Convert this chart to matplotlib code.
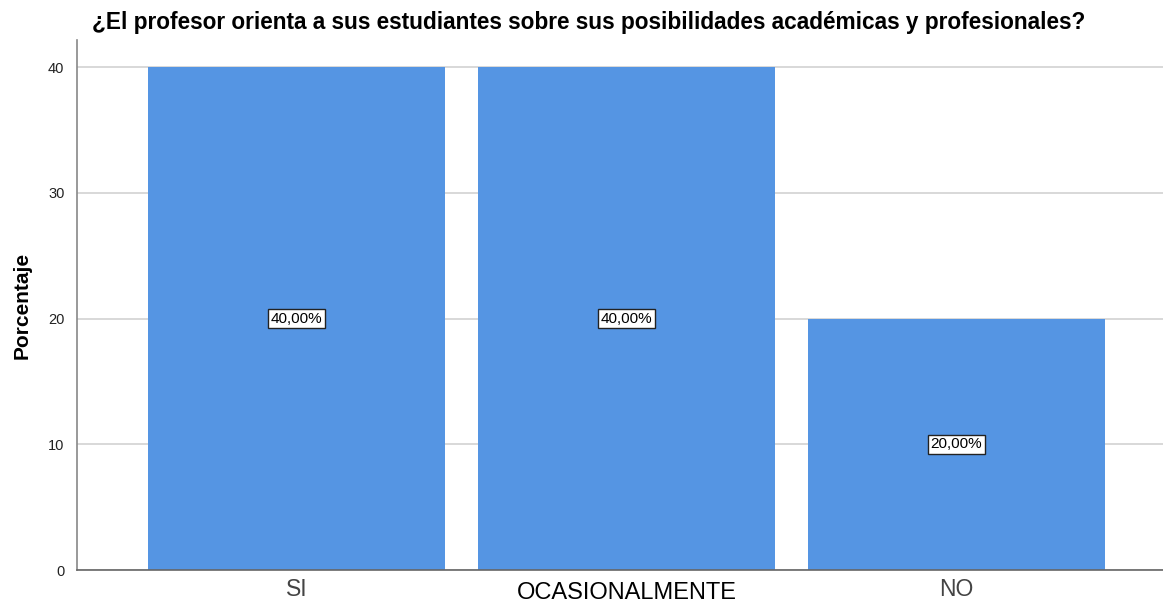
import matplotlib
matplotlib.use("Agg")
import matplotlib.pyplot as plt

# data
categories = ["SI", "OCASIONALMENTE", "NO"]
percentages = [40.0, 40.0, 20.0]
value_labels = ["40,00%", "40,00%", "20,00%"]
yticks = [0, 10, 20, 30, 40]

plt.rcParams['font.family'] = ['Liberation Sans', 'DejaVu Sans']

fig = plt.figure(figsize=(11.63, 6.03), dpi=100)
ax = fig.add_axes([77 / 1163, 1 - 570 / 603, 1 - 77 / 1163, (570 - 40) / 603])

x = list(range(len(categories)))
bars = ax.bar(x, percentages, width=0.9, color="#5595E3", zorder=2)

# value labels in boxes at mid height
for xi, val, lab in zip(x, percentages, value_labels):
    ax.text(xi, val / 2, lab, ha="center", va="center", fontsize=11, color="black", zorder=3,
            bbox=dict(boxstyle="square,pad=0.16", facecolor="white", edgecolor="#222222", linewidth=1))

ax.set_xlim(-0.665, 2.626)
ax.set_ylim(0, 42.15)
ax.set_yticks(yticks)
ax.set_yticklabels([str(t) for t in yticks], fontsize=10.5, color="#222222")
ax.yaxis.grid(True, color="#D2D2D2", linewidth=1.2, zorder=0)
ax.set_axisbelow(True)
ax.tick_params(axis="y", length=0, pad=9)
ax.tick_params(axis="x", length=0, pad=6)

ax.set_xticks(x)
ax.set_xticklabels(categories, fontsize=16.5)
tl = ax.get_xticklabels()
tl[0].set_color("#444444")
tl[2].set_color("#444444")
tl[1].set_color("black")
tl[1].set_fontsize(17)
tl[1].set_y(-0.006)

for s in ["top", "right"]:
    ax.spines[s].set_visible(False)
ax.spines["left"].set_color("#888888")
ax.spines["bottom"].set_color("#666666")
ax.spines["left"].set_linewidth(1.2)
ax.spines["bottom"].set_linewidth(1.2)

ax.set_ylabel("Porcentaje", fontsize=15, fontweight="bold", labelpad=12)
fig.text(92 / 1163, 1 - 22 / 603, "¿El profesor orienta a sus estudiantes sobre sus posibilidades académicas y profesionales?",
         fontsize=16.3, fontweight="bold", ha="left", va="center")

fig.savefig("out.png", dpi=100)
